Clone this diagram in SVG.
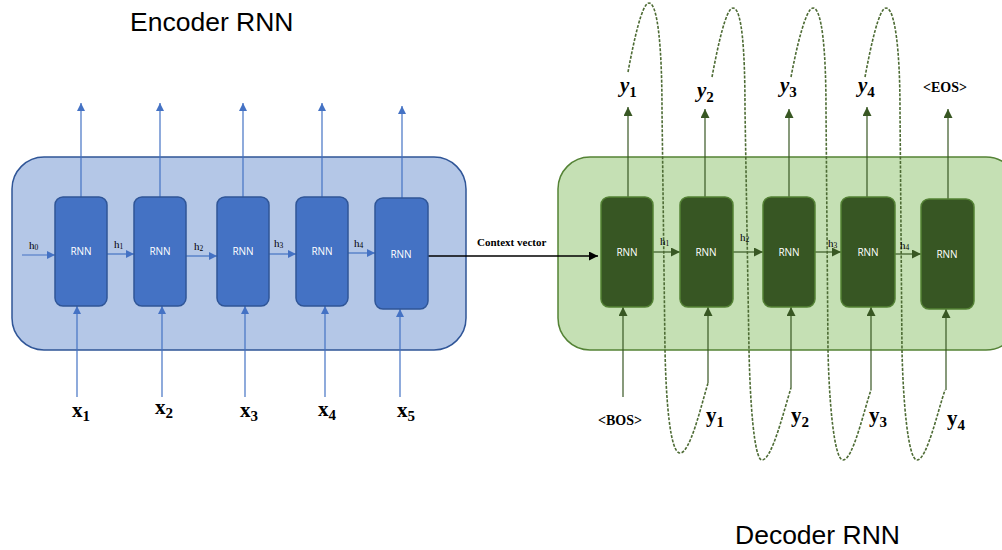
<svg xmlns="http://www.w3.org/2000/svg" width="1002" height="550" viewBox="0 0 1002 550">
<defs>
<style>
.title{font-family:"Liberation Sans",Arial,sans-serif;font-size:26.5px;fill:#000}
.rnn{font-family:"Open Sans","Liberation Sans",sans-serif;font-size:10px;fill:#fff;text-anchor:middle}
.h{font-family:"Liberation Serif",serif;font-size:11px;fill:#000}
.lbl{font-family:"Liberation Serif",serif;font-size:21px;font-weight:bold;fill:#000}
.yl{font-family:"Liberation Serif",serif;font-size:21px;font-weight:bold;font-style:italic;fill:#000}
.tag{font-family:"Liberation Serif",serif;font-size:14px;font-weight:bold;fill:#000}
.ctx{font-family:"Liberation Serif",serif;font-size:11px;font-weight:bold;fill:#000}
.encbox{fill:#4472c4;stroke:#2f5597;stroke-width:1.5}
.decbox{fill:#375623;stroke:#548235;stroke-width:1.5}
.ea{stroke:#4472c4;stroke-width:1.2;fill:none;marker-end:url(#ah-b)}
.da{stroke:#385723;stroke-width:1.2;fill:none;marker-end:url(#ah-g)}
.loop{stroke:#4d6b34;stroke-width:1.6;fill:none;stroke-dasharray:3 1.5}
</style>
<marker id="ah-b" viewBox="0 0 10 10" refX="10" refY="5" markerWidth="8" markerHeight="8" markerUnits="userSpaceOnUse" orient="auto"><path d="M0,0 L10,5 L0,10 z" fill="#4472c4"/></marker>
<marker id="ah-g" viewBox="0 0 10 10" refX="10" refY="5" markerWidth="9" markerHeight="9" markerUnits="userSpaceOnUse" orient="auto"><path d="M0,0 L10,5 L0,10 z" fill="#385723"/></marker>
<marker id="ah-k" viewBox="0 0 10 10" refX="10" refY="5" markerWidth="9" markerHeight="9" markerUnits="userSpaceOnUse" orient="auto"><path d="M0,0 L10,5 L0,10 z" fill="#000"/></marker>
</defs>
<rect width="1002" height="550" fill="#fff"/>
<text class="title" x="130" y="31">Encoder RNN</text>
<text class="title" x="735" y="544">Decoder RNN</text>

<g id="encoder">
<rect x="12" y="157" width="454" height="193" rx="32" fill="#b4c7e7" stroke="#2f5597" stroke-width="1.5"/>
</g>
<g id="decoder">
<rect x="558" y="157" width="460" height="193" rx="32" fill="#c5e0b4" stroke="#548235" stroke-width="1.5"/>
</g>

<g id="connectors">
<line class="ea" x1="81" y1="197" x2="81" y2="103"/>
<line class="ea" x1="160" y1="197" x2="160" y2="103"/>
<line class="ea" x1="243" y1="197" x2="243" y2="103"/>
<line class="ea" x1="322" y1="197" x2="322" y2="103"/>
<line class="ea" x1="402" y1="198" x2="402" y2="106"/>
<line class="ea" x1="77" y1="397" x2="77" y2="306"/>
<line class="ea" x1="162" y1="397" x2="162" y2="306"/>
<line class="ea" x1="245" y1="397" x2="245" y2="306"/>
<line class="ea" x1="325" y1="397" x2="325" y2="306"/>
<line class="ea" x1="400" y1="397" x2="400" y2="309"/>
<line class="ea" x1="22" y1="255" x2="55" y2="255"/>
<line class="ea" x1="107" y1="254" x2="134" y2="254"/>
<line class="ea" x1="186" y1="256" x2="217" y2="256"/>
<line class="ea" x1="269" y1="254" x2="296" y2="254"/>
<line class="ea" x1="348" y1="253" x2="375" y2="253"/>
<line x1="428" y1="256" x2="598" y2="256" stroke="#000" stroke-width="1.5" marker-end="url(#ah-k)"/>
<line class="da" x1="628" y1="197" x2="628" y2="107"/>
<line class="da" x1="705" y1="197" x2="705" y2="109"/>
<line class="da" x1="789" y1="197" x2="789" y2="109"/>
<line class="da" x1="867" y1="197" x2="867" y2="107"/>
<line class="da" x1="948" y1="199" x2="948" y2="109"/>
<line class="da" x1="623" y1="397" x2="623" y2="307"/>
<line class="da" x1="708" y1="383" x2="708" y2="307"/>
<line class="da" x1="791" y1="388" x2="791" y2="307"/>
<line class="da" x1="871" y1="390" x2="871" y2="307"/>
<line class="da" x1="946" y1="390" x2="946" y2="309"/>
<line class="da" x1="653" y1="252" x2="680" y2="252"/>
<line class="da" x1="733" y1="252" x2="763" y2="252"/>
<line class="da" x1="815" y1="252" x2="841" y2="252"/>
<line class="da" x1="895" y1="254" x2="921" y2="254"/>
<path class="loop" d="M628,72 C634,40 642,3 649,3 C658,3 662,50 662,110 L665,350 C666,400 670,453 680,453 C690,453 700,410 708,383"/>
<path class="loop" d="M712,77 C718,45 726,8 733,8 C742,8 745,50 745,110 L749,350 C750,400 754,460 762,460 C772,460 784,410 791,388"/>
<path class="loop" d="M791,77 C797,45 806,8 813,8 C822,8 826,50 826,110 L828,350 C829,400 834,460 843,460 C853,460 864,410 871,390"/>
<path class="loop" d="M865,77 C871,45 879,8 886,8 C895,8 900,50 900,110 L902,350 C903,400 908,460 917,460 C927,460 938,410 945,390"/>
</g>

<g id="enc-rnn1"><rect class="encbox" x="55" y="197" width="52" height="109" rx="8"/><text class="rnn" x="81" y="255">RNN</text></g>
<g id="enc-rnn2"><rect class="encbox" x="134" y="197" width="52" height="109" rx="8"/><text class="rnn" x="160" y="255">RNN</text></g>
<g id="enc-rnn3"><rect class="encbox" x="217" y="197" width="52" height="109" rx="8"/><text class="rnn" x="243" y="255">RNN</text></g>
<g id="enc-rnn4"><rect class="encbox" x="296" y="197" width="52" height="109" rx="8"/><text class="rnn" x="322" y="255">RNN</text></g>
<g id="enc-rnn5"><rect class="encbox" x="375" y="198" width="53" height="111" rx="8"/><text class="rnn" x="401" y="258">RNN</text></g>

<g id="dec-rnn1"><rect class="decbox" x="601" y="197" width="52" height="110" rx="8"/><text class="rnn" x="627" y="256">RNN</text></g>
<g id="dec-rnn2"><rect class="decbox" x="680" y="197" width="53" height="110" rx="8"/><text class="rnn" x="706" y="256">RNN</text></g>
<g id="dec-rnn3"><rect class="decbox" x="763" y="197" width="52" height="110" rx="8"/><text class="rnn" x="789" y="256">RNN</text></g>
<g id="dec-rnn4"><rect class="decbox" x="841" y="197" width="54" height="110" rx="8"/><text class="rnn" x="868" y="256">RNN</text></g>
<g id="dec-rnn5"><rect class="decbox" x="921" y="199" width="53" height="110" rx="8"/><text class="rnn" x="947" y="258">RNN</text></g>

<g id="labels">
<text class="h" x="29" y="249">h<tspan font-size="7.5" dy="1">0</tspan></text>
<text class="h" x="114" y="248">h<tspan font-size="7.5" dy="1">1</tspan></text>
<text class="h" x="194" y="250">h<tspan font-size="7.5" dy="1">2</tspan></text>
<text class="h" x="274" y="247">h<tspan font-size="7.5" dy="1">3</tspan></text>
<text class="h" x="354" y="247">h<tspan font-size="7.5" dy="1">4</tspan></text>
<text class="ctx" x="477" y="246">Context vector</text>
<text class="h" x="660" y="245">h<tspan font-size="7.5" dy="1">1</tspan></text>
<text class="h" x="740" y="241">h<tspan font-size="7.5" dy="1">2</tspan></text>
<text class="h" x="828" y="247">h<tspan font-size="7.5" dy="1">3</tspan></text>
<text class="h" x="900" y="249">h<tspan font-size="7.5" dy="1">4</tspan></text>

<text class="lbl" x="72" y="417">x<tspan font-size="15" dy="4">1</tspan></text>
<text class="lbl" x="155" y="414">x<tspan font-size="15" dy="4">2</tspan></text>
<text class="lbl" x="240" y="417">x<tspan font-size="15" dy="4">3</tspan></text>
<text class="lbl" x="318" y="416">x<tspan font-size="15" dy="4">4</tspan></text>
<text class="lbl" x="397" y="417">x<tspan font-size="15" dy="4">5</tspan></text>

<text class="yl" x="620" y="92">y<tspan font-size="15" dy="5" font-style="normal">1</tspan></text>
<text class="yl" x="697" y="97">y<tspan font-size="15" dy="5" font-style="normal">2</tspan></text>
<text class="yl" x="780" y="92">y<tspan font-size="15" dy="5" font-style="normal">3</tspan></text>
<text class="yl" x="858" y="92">y<tspan font-size="15" dy="5" font-style="normal">4</tspan></text>
<text class="tag" x="923" y="92">&lt;EOS&gt;</text>

<text class="tag" x="598" y="425">&lt;BOS&gt;</text>
<text class="lbl" x="706" y="422">y<tspan font-size="15" dy="5">1</tspan></text>
<text class="lbl" x="791" y="422">y<tspan font-size="15" dy="5">2</tspan></text>
<text class="lbl" x="869" y="422">y<tspan font-size="15" dy="5">3</tspan></text>
<text class="lbl" x="947" y="425">y<tspan font-size="15" dy="5">4</tspan></text>
</g>
</svg>
